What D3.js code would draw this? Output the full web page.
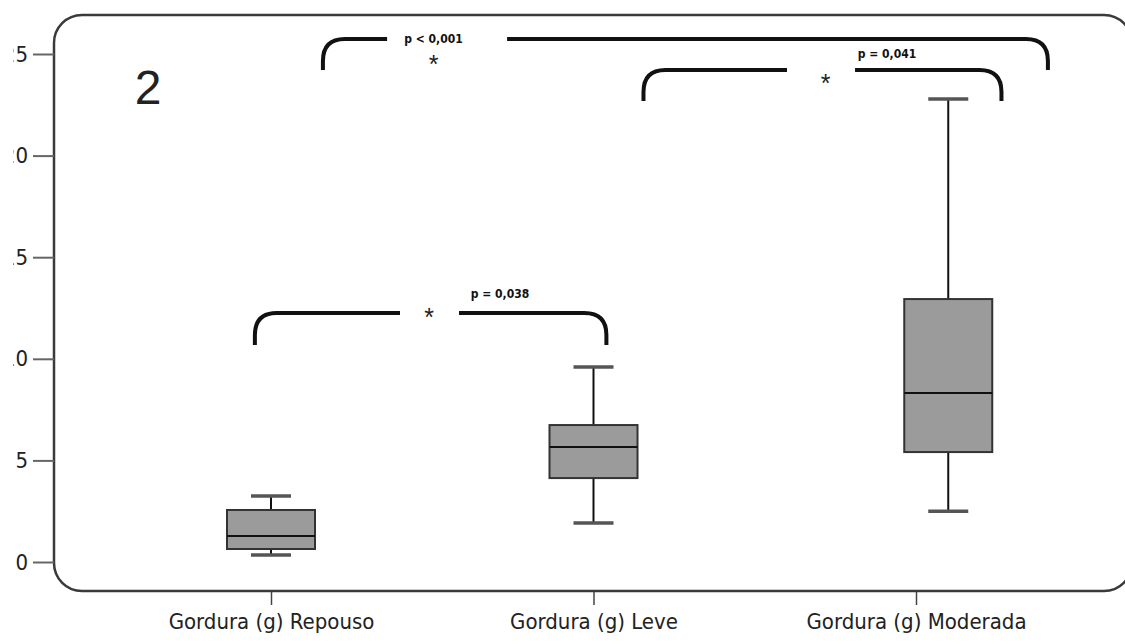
<!DOCTYPE html>
<html>
<head>
<meta charset="utf-8">
<script src="https://cdn.jsdelivr.net/npm/d3@7"></script>
<style>
  body { margin: 0; background: #fff; }
  svg { display: block; }
  .cond { font-family: "Liberation Sans Narrow", "DejaVu Sans Condensed", "Liberation Sans", sans-serif; }
</style>
</head>
<body>
<div id="chart"></div>
<script>
// categories and box statistics (g)
let categories = ["Gordura (g) Repouso", "Gordura (g) Leve", "Gordura (g) Moderada"];
let categoryPos = [1, 2, 3];
let boxPos = [1, 2, 3.1];
let whiskerLow = [0.34, 1.92, 2.5];
let q1 = [0.64, 4.13, 5.41];
let median = [1.28, 5.66, 8.32];
let q3 = [2.56, 6.74, 12.94];
let whiskerHigh = [3.25, 9.6, 22.78];
let yTicks = [0, 5, 10, 15, 20, 25];

// significance brackets
let pLabels = ["p = 0,038", "p = 0,041", "p < 0,001"];
let bracketFrom = [0.95, 2.155, 1.161];
let bracketTo = [2.04, 3.265, 3.409];
let bracketLevel = [12.25, 24.21, 25.74];
let bracketFoot = [10.68, 22.69, 24.21];
let gapFrom = [1.40, 2.60, 1.36];
let gapTo = [1.583, 2.811, 1.732];
let starX = [1.49, 2.72, 1.504];
let starY = [12.35, 23.85, 24.8];
let labelX = [1.71, 2.91, 1.504];
let labelY = [13.2, 25.0, 25.75];

const width = 1125, height = 644;

const x = d3.scaleLinear().domain([1, 3]).range([271, 916]);
const y = d3.scaleLinear().domain([0, 25]).range([562, 54]);

const svg = d3.select("#chart").append("svg")
    .attr("width", width)
    .attr("height", height);

// the source figure is cut off on the left, so the tick labels are clipped
svg.append("clipPath").attr("id", "leftcut")
    .append("rect")
    .attr("x", -41).attr("y", -54)
    .attr("width", 200).attr("height", 700);

// rounded frame
svg.append("rect")
    .attr("x", 54).attr("y", 15)
    .attr("width", 1078).attr("height", 576)
    .attr("rx", 28).attr("ry", 28)
    .attr("fill", "none")
    .attr("stroke", "#3a3a3a")
    .attr("stroke-width", 2.5);

// y axis (ticks only, the frame is the axis line)
const yAxis = svg.append("g")
    .attr("transform", "translate(54,0)")
    .attr("clip-path", "url(#leftcut)")
    .call(d3.axisLeft(y).tickValues(yTicks).tickSize(21).tickPadding(5));
yAxis.select(".domain").remove();
yAxis.selectAll(".tick line").attr("stroke", "#666").attr("stroke-width", 2);
yAxis.selectAll(".tick text")
    .attr("class", "cond")
    .attr("font-size", 22)
    .attr("fill", "#222");

// x axis ticks below the frame
const xAxis = svg.append("g")
    .attr("transform", "translate(0,592)")
    .call(d3.axisBottom(x).tickValues(categoryPos)
        .tickFormat((d, i) => categories[i]).tickSize(13).tickPadding(8));
xAxis.select(".domain").remove();
xAxis.selectAll(".tick line").attr("stroke", "#444").attr("stroke-width", 1.5);
xAxis.selectAll(".tick text")
    .attr("class", "cond")
    .attr("font-size", 22)
    .attr("fill", "#222");

// panel number
svg.append("text")
    .attr("x", 148).attr("y", 104)
    .attr("text-anchor", "middle")
    .attr("font-family", "Liberation Sans, sans-serif")
    .attr("font-size", 48)
    .attr("fill", "#222")
    .text("2");

// boxes
const boxW = 88, capW = 40;
const boxes = categories.map((c, i) => ({
    pos: boxPos[i], lo: whiskerLow[i], q1: q1[i], med: median[i], q3: q3[i], hi: whiskerHigh[i]
}));

const g = svg.selectAll(".box").data(boxes).enter().append("g").attr("class", "box");

g.append("line")
    .attr("x1", d => x(d.pos)).attr("x2", d => x(d.pos))
    .attr("y1", d => y(d.hi)).attr("y2", d => y(d.q3))
    .attr("stroke", "#111").attr("stroke-width", 2);
g.append("line")
    .attr("x1", d => x(d.pos)).attr("x2", d => x(d.pos))
    .attr("y1", d => y(d.q1)).attr("y2", d => y(d.lo))
    .attr("stroke", "#111").attr("stroke-width", 2);
g.selectAll(".cap")
    .data(d => [d.hi, d.lo].map(v => ({ pos: d.pos, v: v })))
    .enter().append("line")
    .attr("x1", d => x(d.pos) - capW / 2).attr("x2", d => x(d.pos) + capW / 2)
    .attr("y1", d => y(d.v)).attr("y2", d => y(d.v))
    .attr("stroke", "#555").attr("stroke-width", 3.5);
g.append("rect")
    .attr("x", d => x(d.pos) - boxW / 2)
    .attr("y", d => y(d.q3))
    .attr("width", boxW)
    .attr("height", d => y(d.q1) - y(d.q3))
    .attr("fill", "#9b9b9b")
    .attr("stroke", "#333")
    .attr("stroke-width", 2);
g.append("line")
    .attr("x1", d => x(d.pos) - boxW / 2).attr("x2", d => x(d.pos) + boxW / 2)
    .attr("y1", d => y(d.med)).attr("y2", d => y(d.med))
    .attr("stroke", "#111").attr("stroke-width", 2);

// brackets
const r = 22;
pLabels.forEach(function (lab, i) {
    let x0 = x(bracketFrom[i]), x1 = x(bracketTo[i]);
    let yt = y(bracketLevel[i]), yb = y(bracketFoot[i]);
    let ga = x(gapFrom[i]), gb = x(gapTo[i]);
    let rr = Math.min(r, yb - yt);
    let left = "M" + x0 + "," + yb + " L" + x0 + "," + (yt + rr) +
        " Q" + x0 + "," + yt + " " + (x0 + rr) + "," + yt + " L" + ga + "," + yt;
    let right = "M" + gb + "," + yt + " L" + (x1 - rr) + "," + yt +
        " Q" + x1 + "," + yt + " " + x1 + "," + (yt + rr) + " L" + x1 + "," + yb;
    svg.selectAll(null).data([left, right]).enter().append("path")
        .attr("d", d => d)
        .attr("fill", "none")
        .attr("stroke", "#111")
        .attr("stroke-width", 4);

    svg.append("text")
        .attr("x", x(starX[i])).attr("y", y(starY[i]) + 15)
        .attr("text-anchor", "middle")
        .attr("font-family", "Liberation Sans, sans-serif")
        .attr("font-size", 25)
        .attr("fill", "#222")
        .text("*");

    svg.append("text")
        .attr("class", "cond")
        .attr("x", x(labelX[i])).attr("y", y(labelY[i]) + 4)
        .attr("text-anchor", "middle")
        .attr("font-size", 12)
        .attr("font-weight", "bold")
        .attr("fill", "#111")
        .text(lab);
});
</script>
</body>
</html>
